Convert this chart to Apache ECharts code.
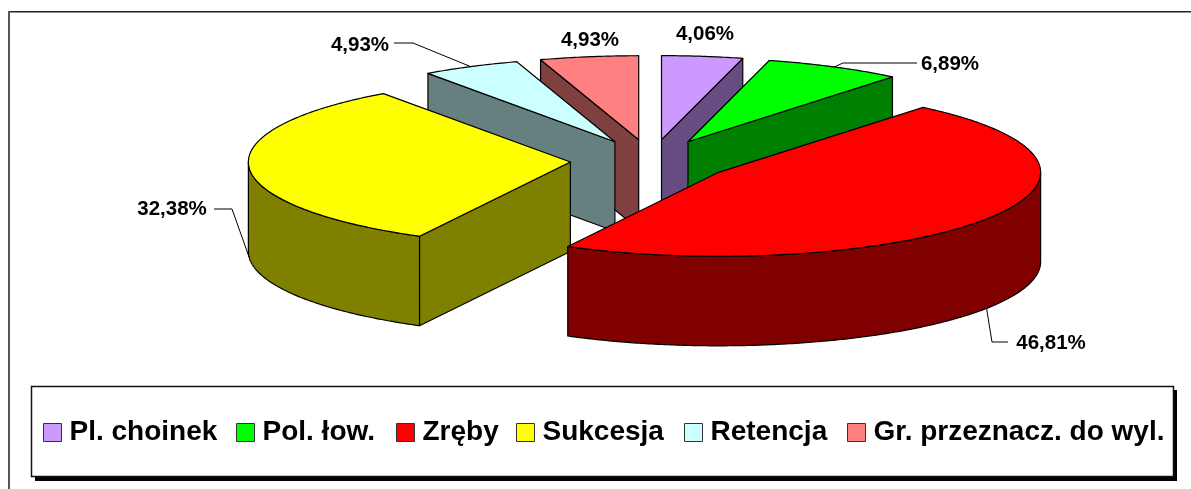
<!DOCTYPE html>
<html><head><meta charset="utf-8">
<style>html,body{margin:0;padding:0;background:#fff}#c{width:1191px;height:489px}</style>
<script src="https://cdn.jsdelivr.net/npm/echarts@6/dist/echarts.min.js"></script>
</head><body><div id="c"></div>
<script>
const categories = ['Pl. choinek','Pol. łow.','Zręby','Sukcesja','Retencja','Gr. przeznacz. do wyl.'];
const values = [4.06, 6.89, 46.81, 32.38, 4.93, 4.93];
const topColors = ['#CC99FF','#00FF00','#FF0000','#FFFF00','#CCFFFF','#FF8080'];
const sideColors = ['#664C80','#008000','#800000','#808000','#668080','#804040'];
const paintOrder = [1,4,6,5,3,2];          // z of each slice: back to front
// label anchor (text centre) and optional leader elbow, per slice
const labelCentres = [[705,34],[950,64],[1051,343],[172,209],[360,45],[590,40]];
const leaderElbows = [null,[[843,63],[917,63]],[[992,342],[1008,342]],[[232,209],[214,209]],[[413,43],[394,43]],null];
const legendLefts = [43,236,396,516,684,847];

const PIE = {cx:651.2, cy:160.6, rx:322, ry:84, explode:81, depth:89.5};
const total = values.reduce((a,b)=>a+b,0);
const TAU = Math.PI*2;
const rim = (c,t,d) => [c[0]+PIE.rx*Math.sin(t), c[1]-PIE.ry*Math.cos(t)+(d||0)];
function arcPts(c,a,b,d){
  const n = Math.max(2,Math.ceil((b-a)/0.01)), out=[];
  for(let i=0;i<=n;i++) out.push(rim(c,a+(b-a)*i/n,d));
  return out;
}
function makeRender(i){
  return function(params,api){
    const v = api.value(0);
    let before = 0; for(let k=0;k<i;k++) before += values[k];
    const a0 = before/total*TAU, a1 = (before+v)/total*TAU, mid=(a0+a1)/2;
    const c = [PIE.cx+PIE.explode*Math.sin(mid), PIE.cy-PIE.explode*PIE.ry/PIE.rx*Math.cos(mid)];
    const line = {stroke:'#000',lineWidth:1.2,lineJoin:'round'};
    const side = Object.assign({fill:sideColors[i]},line);
    const kids = [];
    const wall = (t)=>{ const p=rim(c,t);
      kids.push({type:'polygon',shape:{points:[c,p,[p[0],p[1]+PIE.depth],[c[0],c[1]+PIE.depth]]},style:side}); };
    if(Math.sin(a0)<0) wall(a0);
    if(Math.sin(a1)>0) wall(a1);
    const f0=Math.max(a0,Math.PI/2), f1=Math.min(a1,Math.PI*1.5);
    if(f1>f0){
      kids.push({type:'polygon',shape:{points:arcPts(c,f0,f1,0).concat(arcPts(c,f0,f1,PIE.depth).reverse())},style:side});
    }
    kids.push({type:'polygon',shape:{points:[c].concat(arcPts(c,a0,a1,0))},
      style:Object.assign({fill:topColors[i]},line)});
    const elbow = leaderElbows[i];
    if(elbow){
      const front = Math.cos(mid)<0;
      const start = rim(c,mid,front?PIE.depth:0);
      kids.push({type:'polyline',shape:{points:[start].concat(elbow)},style:{stroke:'#000',lineWidth:1,fill:null},z2:5});
    }
    const lc = labelCentres[i];
    kids.push({type:'text',x:lc[0],y:lc[1],z2:6,style:{
      text:v.toFixed(2).replace('.',',')+'%',align:'center',verticalAlign:'middle',
      font:'bold 20.5px "Liberation Sans", Arial, sans-serif',fill:'#000'}});
    return {type:'group',children:kids};
  };
}
const series = categories.map((name,i)=>({
  type:'custom',name,coordinateSystem:'none',z:2+paintOrder[i],silent:true,animation:false,
  itemStyle:{color:topColors[i]},data:[[values[i]]],renderItem:makeRender(i)
}));
const legend = categories.map((name,i)=>({
  left:legendLefts[i],top:418,padding:0,itemWidth:18,itemHeight:18,
  icon:'rect',selectedMode:false,data:[name],
  itemStyle:{borderColor:'#333',borderWidth:1},
  textStyle:{fontFamily:'"Liberation Sans", Arial, sans-serif',fontWeight:'bold',fontSize:28,lineHeight:29,color:'#000',padding:[0,0,0,3]}
}));
const chart = echarts.init(document.getElementById('c'),null,{renderer:'canvas'});
chart.setOption({
  animation:false,backgroundColor:'#fff',
  graphic:[
    {type:'line',shape:{x1:8,y1:11.75,x2:1191,y2:11.75},style:{stroke:'#222',lineWidth:1.5}},
    {type:'line',shape:{x1:9,y1:11,x2:9,y2:489},style:{stroke:'#555',lineWidth:2}},
    {type:'rect',shape:{x:35,y:390,width:1142,height:91},style:{fill:'#000'}},
    {type:'rect',shape:{x:31.5,y:386.5,width:1142,height:90},style:{fill:'#fff',stroke:'#111',lineWidth:1.5}}
  ],
  legend,
  series
});
</script></body></html>
